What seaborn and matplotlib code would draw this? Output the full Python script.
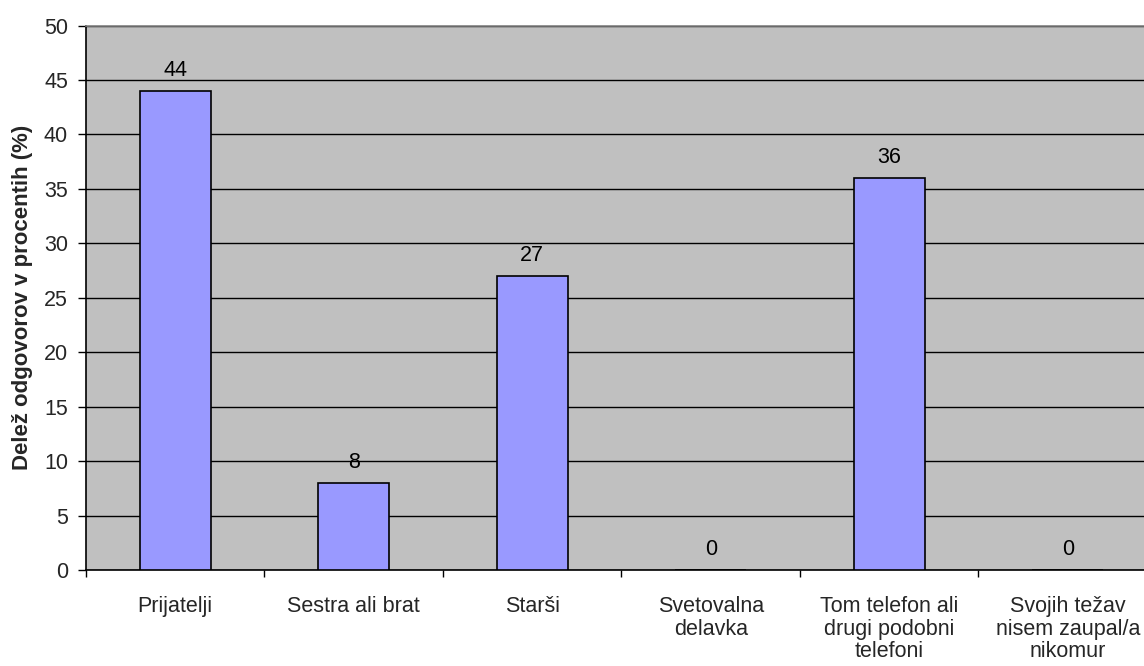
import matplotlib
matplotlib.use("Agg")
import matplotlib.pyplot as plt
import seaborn as sns
import pandas as pd
import numpy as np

categories = [
    "Prijatelji",
    "Sestra ali brat",
    "Starši",
    "Svetovalna\ndelavka",
    "Tom telefon ali\ndrugi podobni\ntelefoni",
    "Svojih težav\nnisem zaupal/a\nnikomur",
]
values = [44, 8, 27, 0, 36, 0]
y_ticks = [0, 5, 10, 15, 20, 25, 30, 35, 40, 45, 50]
y_label = "Delež odgovorov v procentih (%)"

sns.set_theme(style="white")
plt.rcParams["font.family"] = ["Liberation Sans", "DejaVu Sans"]

FS = 15.5
W, H = 1144, 666
fig = plt.figure(figsize=(W / 100, H / 100), dpi=100)
left, right, top, bottom = 86, 1157, 25.5, 570
ax = fig.add_axes([left / W, (H - bottom) / H, (right - left) / W, (bottom - top) / H])
ax.set_facecolor("#C0C0C0")

df = pd.DataFrame({"cat": categories, "val": values})
sns.barplot(data=df, x="cat", y="val", ax=ax, color="#9999FF", saturation=1,
            width=0.4, edgecolor="black", linewidth=1.2, zorder=3)

ax.set_xlim(-0.5, len(categories) - 0.5)
ax.set_ylim(0, 50)
ax.set_yticks(y_ticks)
ax.set_yticklabels([str(t) for t in y_ticks], fontsize=FS)
ax.yaxis.grid(True, color="black", linewidth=1, zorder=1)
ax.set_axisbelow(True)

# category labels between boundary ticks
ax.set_xticks(range(len(categories)))
ax.set_xticklabels(categories, fontsize=FS, linespacing=1.07)
ax.tick_params(axis="x", which="major", length=0, pad=19)
ax.set_xticks(np.arange(-0.5, len(categories), 1.0), minor=True)
ax.tick_params(axis="x", which="minor", length=5, width=1, color="black", direction="out", bottom=True)
ax.tick_params(axis="y", length=6, width=1, color="black", direction="out", left=True, pad=7)

ax.set_xlabel("")
ax.set_ylabel(y_label, fontsize=16, fontweight="bold", labelpad=8)

for s in ["left", "bottom"]:
    ax.spines[s].set_color("black")
    ax.spines[s].set_linewidth(1.2)
ax.spines["top"].set_color("#808080")
ax.spines["top"].set_linewidth(1.2)
ax.spines["right"].set_visible(False)

for i, v in enumerate(values):
    ax.annotate(str(v), (i, v), xytext=(0, 15), textcoords="offset points",
                ha="center", va="center", fontsize=FS, color="black")

fig.savefig("out.png", dpi=100, facecolor="white")
